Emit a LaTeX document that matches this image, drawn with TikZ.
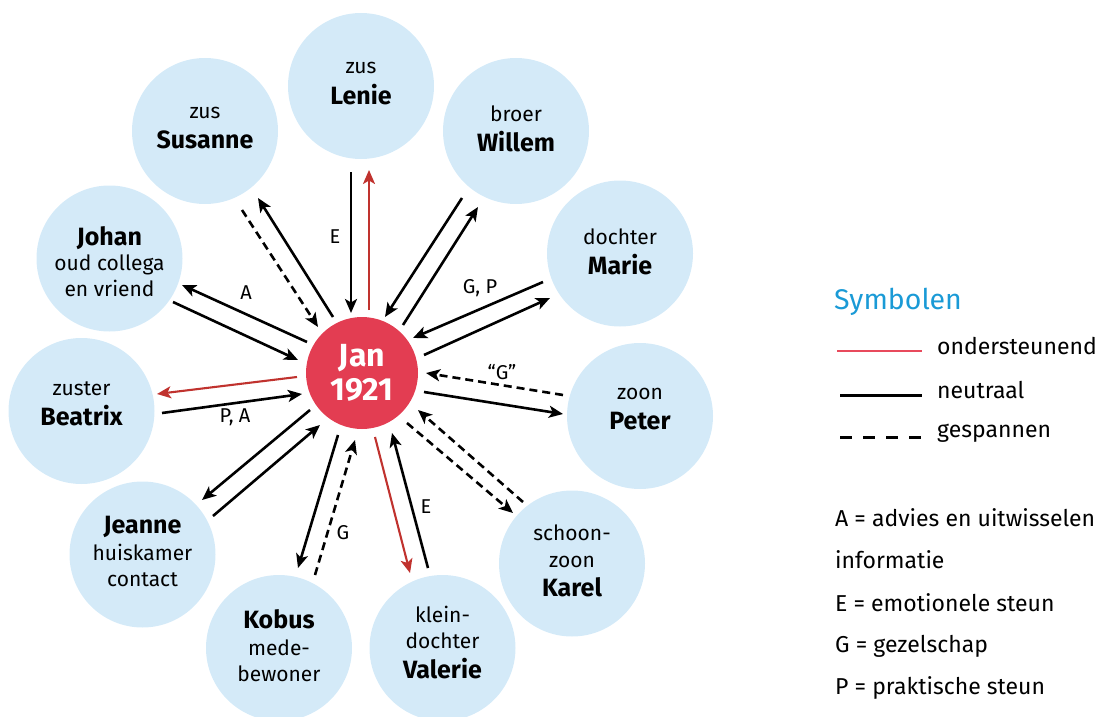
\documentclass[tikz,border=0pt]{standalone}
\usepackage{fontspec}
\setmainfont{Fira Sans}
\usetikzlibrary{arrows.meta}
\definecolor{bubble}{HTML}{D4EAF8}
\definecolor{janred}{HTML}{E33D52}
\definecolor{arrred}{HTML}{C0322E}
\definecolor{legred}{HTML}{E84A5C}
\definecolor{titleblue}{HTML}{1A9AD6}
\begin{document}
\begin{tikzpicture}[x=1pt,y=-1pt,
  person/.style={circle,fill=bubble,minimum size=146pt,inner sep=0pt},
  ptext/.style={align=center,font=\fontsize{21}{26.5}\selectfont,inner sep=0pt},
  janbox/.style={circle,fill=janred,minimum size=112pt,inner sep=0pt,text=white,align=center,font=\fontsize{32}{34}\selectfont\bfseries},
  lbl/.style={font=\fontsize{20}{22}\selectfont,inner sep=0pt},
  legtxt/.style={font=\fontsize{23}{25}\selectfont,inner sep=0pt,anchor=west},
  tip/.style={-{Stealth[length=14pt,width=12pt,inset=3.5pt]}},
  neutral/.style={tip,line width=2.6pt,black},
  support/.style={tip,line width=2.1pt,arrred},
  tense/.style={tip,line width=2.6pt,black,dash pattern=on 8pt off 5pt}]
\useasboundingbox (0,0) rectangle (1101,717);
\newcommand{\nm}[1]{{\fontsize{25}{27}\selectfont\bfseries #1}}

% outer people
\node[person] (lenie) at (361,86) {};
\node[ptext] (lenieT) at (361,83.5) {zus\\[4pt]\nm{Lenie}};
\node[person] (susanne) at (205,131) {};
\node[ptext] (susanneT) at (205,128.5) {zus\\[3.5pt]\nm{Susanne}};
\node[person] (willem) at (516,131) {};
\node[ptext] (willemT) at (516,128.5) {broer\\[3.5pt]\nm{Willem}};
\node[person] (johan) at (109.5,258.5) {};
\node[ptext] (johanT) at (109.5,261.5) {\nm{Johan}\\[-1pt]oud collega\\[-1pt]en vriend};
\node[person] (marie) at (620,253.5) {};
\node[ptext] (marieT) at (620,252) {dochter\\[3pt]\nm{Marie}};
\node[person] (beatrix) at (81.5,411) {};
\node[ptext] (beatrixT) at (81.5,404) {zuster\\[4pt]\nm{Beatrix}};
\node[person] (peter) at (640,416) {};
\node[ptext] (peterT) at (640,409) {zoon\\[4pt]\nm{Peter}};
\node[person] (jeanne) at (142.5,554.5) {};
\node[ptext] (jeanneT) at (142.5,551.5) {\nm{Jeanne}\\huiskamer\\contact};
\node[person] (karel) at (572,563.5) {};
\node[ptext] (karelT) at (572,561) {schoon-\\zoon\\[3pt]\nm{Karel}};
\node[person] (kobus) at (279,648) {};
\node[ptext] (kobusT) at (279,646) {\nm{Kobus}\\mede-\\bewoner};
\node[person] (valerie) at (442.5,648) {};
\node[ptext] (valerieT) at (442.5,642.5) {klein-\\dochter\\[3pt]\nm{Valerie}};

% center
\node[janbox] (jan) at (362,373) {Jan\\1921};

% connector end points
\coordinate (le1) at (351,172); \coordinate (le2) at (351,313);
\coordinate (le3) at (369,310); \coordinate (le4) at (369,170);
\coordinate (su1) at (333,317); \coordinate (su2) at (258,198);
\coordinate (su3) at (242,210); \coordinate (su4) at (318,327);
\coordinate (wi1) at (462,198); \coordinate (wi2) at (385,317);
\coordinate (wi3) at (403,325); \coordinate (wi4) at (478,207);
\coordinate (ma1) at (543,282); \coordinate (ma2) at (413,338);
\coordinate (ma3) at (424,355); \coordinate (ma4) at (550,298);
\coordinate (pe1) at (563,395); \coordinate (pe2) at (426,373);
\coordinate (pe3) at (424,392); \coordinate (pe4) at (563,414);
\coordinate (ka1) at (523,502); \coordinate (ka2) at (418,410);
\coordinate (ka3) at (407,423); \coordinate (ka4) at (513,513);
\coordinate (va1) at (375,437); \coordinate (va2) at (410,573);
\coordinate (va3) at (428,568); \coordinate (va4) at (392,433);
\coordinate (ko1) at (338,435); \coordinate (ko2) at (298,568);
\coordinate (ko3) at (315,575); \coordinate (ko4) at (355,440);
\coordinate (je1) at (310,410); \coordinate (je2) at (202,500);
\coordinate (je3) at (213,516); \coordinate (je4) at (320,425);
\coordinate (be1) at (297,377); \coordinate (be2) at (157,394);
\coordinate (be3) at (162,413); \coordinate (be4) at (302,394);
\coordinate (jo1) at (307,342); \coordinate (jo2) at (182,285);
\coordinate (jo3) at (173,302); \coordinate (jo4) at (298,360);

% connectors
\draw[neutral] (le1) -- (le2);
\draw[support] (le3) -- (le4);
\draw[neutral] (su1) -- (su2);
\draw[tense] (su3) -- (su4);
\draw[neutral] (wi1) -- (wi2);
\draw[neutral] (wi3) -- (wi4);
\draw[neutral] (ma1) -- (ma2);
\draw[neutral] (ma3) -- (ma4);
\draw[tense] (pe1) -- (pe2);
\draw[neutral] (pe3) -- (pe4);
\draw[tense] (ka1) -- (ka2);
\draw[tense] (ka3) -- (ka4);
\draw[support] (va1) -- (va2);
\draw[neutral] (va3) -- (va4);
\draw[neutral] (ko1) -- (ko2);
\draw[tense] (ko3) -- (ko4);
\draw[neutral] (je1) -- (je2);
\draw[neutral] (je3) -- (je4);
\draw[support] (be1) -- (be2);
\draw[neutral] (be3) -- (be4);
\draw[neutral] (jo1) -- (jo2);
\draw[neutral] (jo3) -- (jo4);

% connector labels
\node[lbl] (lE1) at (335,237) {E};
\node[lbl] (lA1) at (246,293) {A};
\node[lbl] (lPA) at (235,417) {P, A};
\node[lbl] (lGP) at (480,288) {G, P};
\node[lbl] (lGq) at (502,372) {“G”};
\node[lbl] (lE2) at (426,507) {E};
\node[lbl] (lG) at (343,533) {G};

% legend
\node[anchor=west,inner sep=0pt,text=titleblue,font=\fontsize{28.5}{30}\selectfont] (symb) at (834,302) {Symbolen};
\coordinate (lr1) at (837,351); \coordinate (lr2) at (922,351);
\coordinate (ln1) at (840,395); \coordinate (ln2) at (922,395);
\coordinate (ld1) at (840,437); \coordinate (ld2) at (922,437);
\draw[legred,line width=2pt] (lr1) -- (lr2);
\draw[black,line width=3pt] (ln1) -- (ln2);
\draw[black,line width=3pt,dash pattern=on 12pt off 11pt] (ld1) -- (ld2);
\node[legtxt] (t1) at (937,346) {ondersteunend};
\node[legtxt] (t2) at (937,390) {neutraal};
\node[legtxt] (t3) at (937,433) {gespannen};
\node[legtxt] (k1) at (835,518) {A = advies en uitwisselen};
\node[legtxt] (k2) at (835,560) {informatie};
\node[legtxt] (k3) at (835,603) {E = emotionele steun};
\node[legtxt] (k4) at (835,646) {G = gezelschap};
\node[legtxt] (k5) at (835,688) {P = praktische steun};
\end{tikzpicture}
\end{document}
